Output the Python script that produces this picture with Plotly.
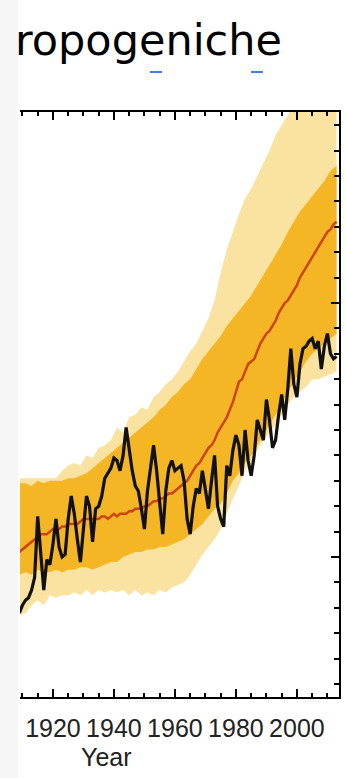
import plotly.graph_objects as go

# Annual series, 1909-2013 (temperature anomaly, deg C)
years = list(range(1909, 2014))

observed = [
    -0.22,
    -0.19, -0.17, -0.16, -0.13, -0.08, 0.16, 0.03, -0.13, -0.01, -0.03,
    0.05, 0.15, 0.04, 0.00, 0.01, 0.15, 0.24, 0.17, 0.07, -0.02,
    0.11, 0.24, 0.20, 0.06, 0.19, 0.20, 0.24, 0.31, 0.33, 0.35,
    0.39, 0.38, 0.34, 0.40, 0.51, 0.42, 0.34, 0.28, 0.26, 0.19,
    0.11, 0.26, 0.36, 0.44, 0.34, 0.22, 0.09, 0.26, 0.35, 0.38,
    0.34, 0.35, 0.36, 0.30, 0.15, 0.09, 0.20, 0.27, 0.25, 0.34,
    0.26, 0.19, 0.30, 0.40, 0.20, 0.15, 0.12, 0.36, 0.32, 0.42,
    0.48, 0.44, 0.32, 0.50, 0.38, 0.32, 0.40, 0.54, 0.50, 0.46,
    0.62, 0.54, 0.43, 0.46, 0.56, 0.64, 0.54, 0.66, 0.82, 0.68,
    0.63, 0.76, 0.82, 0.83, 0.85, 0.86, 0.82, 0.85, 0.74, 0.83,
    0.88, 0.80, 0.78, 0.79,
]

model_mean = [
    0.02,
    0.03, 0.04, 0.05, 0.06, 0.07, 0.08, 0.09, 0.09, 0.09, 0.10,
    0.11, 0.11, 0.11, 0.12, 0.12, 0.13, 0.13, 0.13, 0.13, 0.14,
    0.15, 0.15, 0.15, 0.15, 0.15, 0.15, 0.16, 0.16, 0.15, 0.16,
    0.17, 0.16, 0.17, 0.17, 0.17, 0.18, 0.18, 0.19, 0.19, 0.19,
    0.20, 0.20, 0.21, 0.22, 0.22, 0.23, 0.23, 0.24, 0.25, 0.25,
    0.26, 0.27, 0.28, 0.29, 0.30, 0.32, 0.34, 0.36, 0.37, 0.39,
    0.41, 0.43, 0.44, 0.46, 0.49, 0.51, 0.53, 0.55, 0.58, 0.61,
    0.65, 0.69, 0.70, 0.73, 0.76, 0.77, 0.78, 0.81, 0.84, 0.86,
    0.88, 0.89, 0.91, 0.93, 0.96, 0.98, 1.00, 1.01, 1.03, 1.05,
    1.07, 1.10, 1.12, 1.14, 1.16, 1.18, 1.20, 1.22, 1.24, 1.26,
    1.28, 1.29, 1.31, 1.32,
]

# Ensemble spread, every second year
band_years = list(range(1909, 2014, 2))

spread_lo = [
    -0.23, -0.22, -0.19, -0.17, -0.19, -0.15, -0.16, -0.15, -0.15, -0.14,
    -0.15, -0.13, -0.15, -0.13, -0.14, -0.13, -0.14, -0.13, -0.15, -0.13,
    -0.15, -0.14, -0.15, -0.13, -0.14, -0.12, -0.11, -0.10, -0.07, -0.03,
    0.01, 0.04, 0.07, 0.11, 0.17, 0.23, 0.28, 0.34, 0.37, 0.42,
    0.46, 0.49, 0.52, 0.56, 0.60, 0.63, 0.65, 0.67, 0.70, 0.70,
    0.71, 0.72, 0.73,
]

spread_hi = [
    0.31, 0.31, 0.31, 0.31, 0.31, 0.31, 0.31,
    0.34, 0.36, 0.37, 0.36, 0.40, 0.39, 0.43, 0.44, 0.46, 0.51, 0.49,
    0.55, 0.56, 0.59, 0.58, 0.63, 0.65, 0.68, 0.70, 0.73, 0.77, 0.81,
    0.84, 0.89, 0.94, 1.01, 1.12, 1.21, 1.28, 1.35, 1.41, 1.45, 1.50,
    1.55, 1.60, 1.66, 1.70, 1.74, 1.78,
    1.80, 1.80, 1.80, 1.80, 1.80, 1.80, 1.80,
]

core_lo = [
    -0.07, -0.06, -0.07, -0.05, -0.06, -0.06, -0.05, -0.06, -0.05, -0.05,
    -0.04, -0.04, -0.05, -0.04, -0.03, -0.02, -0.02, 0.00, 0.01, 0.02,
    0.02, 0.03, 0.03, 0.04, 0.04, 0.05, 0.06, 0.07, 0.09, 0.11,
    0.13, 0.16, 0.19, 0.21, 0.25, 0.30, 0.33, 0.37, 0.40, 0.44,
    0.48, 0.52, 0.56, 0.60, 0.65, 0.69, 0.73, 0.77, 0.80, 0.82,
    0.84, 0.86, 0.88,
]

core_hi = [
    0.29, 0.29, 0.28, 0.30, 0.29, 0.30, 0.30, 0.30, 0.31, 0.31,
    0.32, 0.33, 0.35, 0.37, 0.39, 0.41, 0.43, 0.45, 0.47, 0.49,
    0.51, 0.53, 0.55, 0.58, 0.60, 0.63, 0.65, 0.68, 0.70, 0.74,
    0.78, 0.81, 0.84, 0.87, 0.91, 0.94, 0.97, 1.00, 1.03, 1.07,
    1.11, 1.15, 1.19, 1.23, 1.28, 1.32, 1.36, 1.39, 1.42, 1.45,
    1.48, 1.52, 1.54,
]

x_ticks = [1920, 1940, 1960, 1980, 2000]

W, H = 347, 778
ML, MR, MT, MB = 20, 8, 112, 81
PW, PH = W - ML - MR, H - MT - MB


def px_x(p):
    return (p - ML) / PW


def px_y(p):
    return 1 + (MT - p) / PH


fig = go.Figure()

# outer ensemble envelope (pale yellow)
fig.add_trace(go.Scatter(x=band_years, y=spread_lo, mode="lines",
                         line=dict(width=0, color="#FAE3A0"),
                         hoverinfo="skip", showlegend=False))
fig.add_trace(go.Scatter(x=band_years, y=spread_hi, mode="lines",
                         line=dict(width=0, color="#FAE3A0"),
                         fill="tonexty", fillcolor="#FAE3A0",
                         hoverinfo="skip", showlegend=False))
# dense core of the ensemble (golden)
fig.add_trace(go.Scatter(x=band_years, y=core_lo, mode="lines",
                         line=dict(width=0, color="#F4B625"),
                         hoverinfo="skip", showlegend=False))
fig.add_trace(go.Scatter(x=band_years, y=core_hi, mode="lines",
                         line=dict(width=0, color="#F4B625"),
                         fill="tonexty", fillcolor="#F4B625",
                         hoverinfo="skip", showlegend=False))
# ensemble mean
fig.add_trace(go.Scatter(x=years, y=model_mean, mode="lines",
                         line=dict(width=2.5, color="#CC4414"),
                         showlegend=False))
# observations
fig.add_trace(go.Scatter(x=years, y=observed, mode="lines",
                         line=dict(width=3.2, color="#111111"),
                         showlegend=False))

tick_font = dict(family="Liberation Sans Narrow, Arial Narrow, Liberation Sans, Arial, sans-serif",
                 size=25, color="#222222")

fig.update_xaxes(
    range=[1909.2, 2013.8], showgrid=False, zeroline=False,
    showline=True, linecolor="black", linewidth=2, mirror="ticks",
    ticks="inside", ticklen=8, tickwidth=2, tickcolor="black",
    tickvals=x_ticks, ticktext=[str(v) for v in x_ticks],
    tickfont=tick_font, tickangle=0, ticklabelstandoff=8,
    minor=dict(dtick=5, tick0=1910, ticks="inside", ticklen=4,
               tickwidth=1.5, tickcolor="black"),
)
fig.update_yaxes(
    range=[-0.551, 1.752], side="right", showgrid=False, zeroline=False,
    showline=True, linecolor="black", linewidth=2, mirror=False,
    ticks="inside", ticklen=8, tickwidth=2, tickcolor="black",
    dtick=1.0, tick0=0, showticklabels=False,
    minor=dict(dtick=0.1, tick0=0, ticks="inside", ticklen=5,
               tickwidth=1.5, tickcolor="black"),
)

shapes = [
    # light strip along the left edge
    dict(type="rect", xref="paper", yref="paper",
         x0=px_x(0), x1=px_x(18), y0=px_y(H), y1=px_y(0),
         fillcolor="#F6F6F6", line=dict(width=0), layer="below"),
    # two short blue underline fragments below the heading
    dict(type="line", xref="paper", yref="paper",
         x0=px_x(150), x1=px_x(162), y0=px_y(72), y1=px_y(72),
         line=dict(color="#4A7BEF", width=2)),
    dict(type="line", xref="paper", yref="paper",
         x0=px_x(251), x1=px_x(263), y0=px_y(72), y1=px_y(72),
         line=dict(color="#4A7BEF", width=2)),
]

annotations = [
    dict(text="ropogeniche", xref="paper", yref="paper",
         x=px_x(13), y=px_y(40), xanchor="left", yanchor="middle",
         showarrow=False,
         font=dict(family="DejaVu Sans, Noto Sans, sans-serif", size=43, color="black")),
    dict(text="Year", xref="paper", yref="paper",
         x=px_x(106), y=px_y(757), xanchor="center", yanchor="middle",
         showarrow=False, font=tick_font),
]

fig.update_layout(
    width=W, height=H,
    margin=dict(l=ML, r=MR, t=MT, b=MB, autoexpand=False),
    paper_bgcolor="white", plot_bgcolor="white",
    shapes=shapes, annotations=annotations,
    showlegend=False,
)

fig.write_html("out.html", config={"displayModeBar": False})
